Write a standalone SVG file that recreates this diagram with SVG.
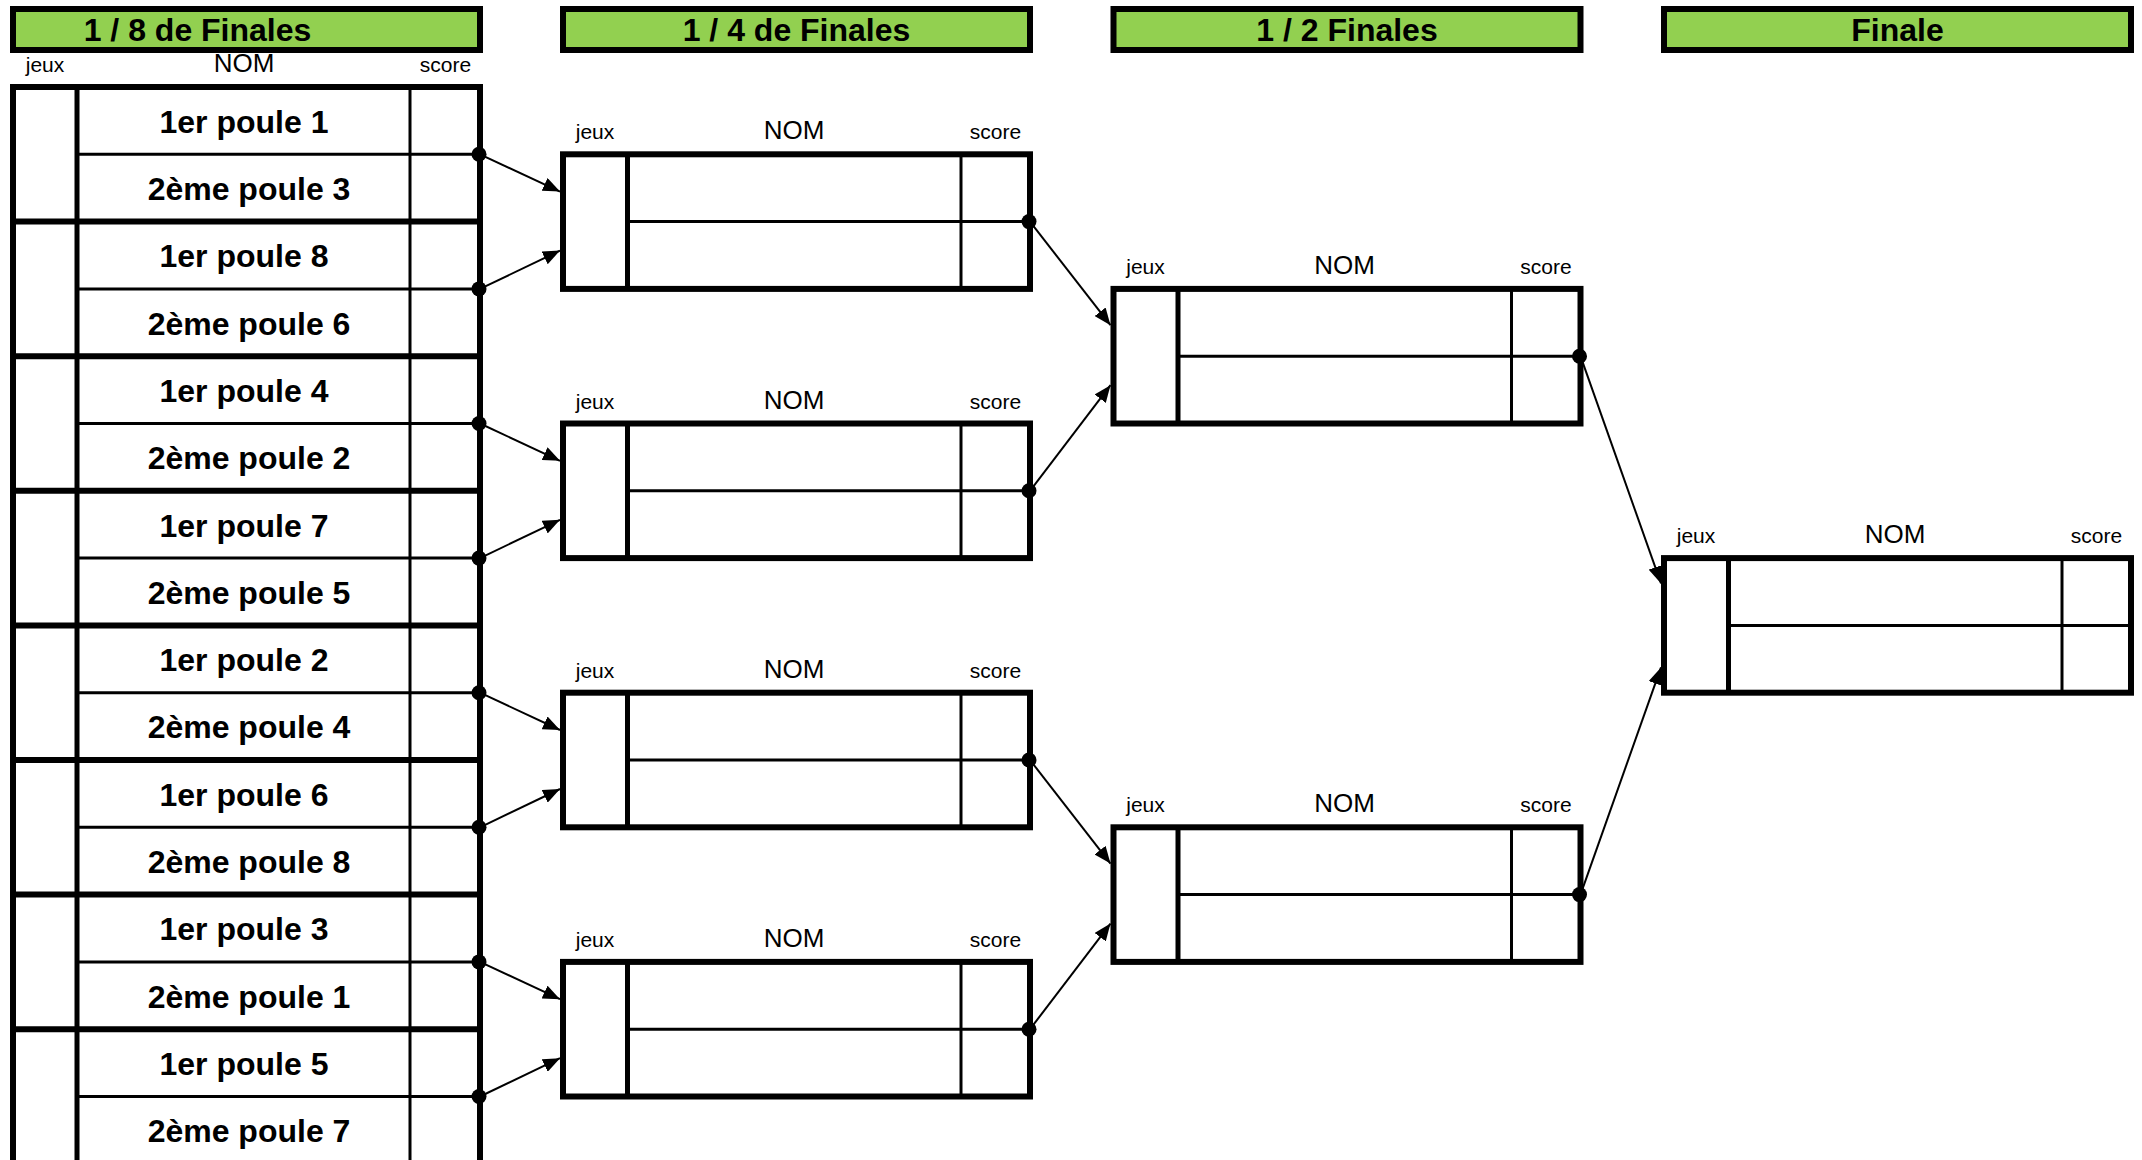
<svg xmlns="http://www.w3.org/2000/svg" width="2142" height="1160" viewBox="0 0 2142 1160">
<style>
text{font-family:"Liberation Sans",Arial,sans-serif;fill:#000}
.hdr{fill:#92D050;stroke:#000;stroke-width:6}
.ht{font-size:32px;font-weight:bold;text-anchor:middle}
.sm{font-size:21px;text-anchor:middle}
.nom{font-size:26px;text-anchor:middle}
.lb{font-size:32px;font-weight:bold;text-anchor:middle}
.thick{stroke:#000;stroke-width:6;fill:none}
.mid{stroke:#000;stroke-width:5;fill:none}
.thin{stroke:#000;stroke-width:3;fill:none}
.box{fill:#fff;stroke:#000;stroke-width:6}
.conn line{stroke:#000;stroke-width:2}
.conn circle{fill:#000}
</style>
<defs>
<marker id="arr" markerUnits="userSpaceOnUse" markerWidth="18" markerHeight="14" refX="17" refY="7" orient="auto">
<path d="M0,0 L17,7 L0,14 Z" fill="#000"/>
</marker>
<g id="boxbody">
<rect class="box" x="0" y="0" width="467" height="134.6"/>
<line class="mid" x1="64.5" y1="0" x2="64.5" y2="134.6"/>
<line class="thin" x1="398" y1="0" x2="398" y2="134.6"/>
<line class="thin" x1="64.5" y1="67.3" x2="467" y2="67.3"/>
<text class="sm" x="32" y="-15">jeux</text>
<text class="nom" x="231" y="-15">NOM</text>
<text class="sm" x="432.5" y="-15">score</text>
</g>
</defs>
<rect width="2142" height="1160" fill="#fff"/>

<g id="headers">
<g id="h-r16"><rect class="hdr" x="13" y="9" width="467" height="41"/><text class="ht" x="197.5" y="41">1 / 8 de Finales</text></g>
<g id="h-qf"><rect class="hdr" x="563" y="9" width="467" height="41"/><text class="ht" x="796.5" y="41">1 / 4 de Finales</text></g>
<g id="h-sf"><rect class="hdr" x="1113.5" y="9" width="467" height="41"/><text class="ht" x="1347" y="41">1 / 2 Finales</text></g>
<g id="h-f"><rect class="hdr" x="1664" y="9" width="467" height="41"/><text class="ht" x="1897.5" y="41">Finale</text></g>
</g>

<g id="r16">
<text class="sm" x="45" y="72">jeux</text>
<text class="nom" x="244" y="72">NOM</text>
<text class="sm" x="445.5" y="72">score</text>
<rect x="13" y="87" width="467" height="1080" fill="#fff"/>
<line class="thin" x1="410" y1="87" x2="410" y2="1165"/>
<g class="thin">
<line x1="77" y1="154.3" x2="480" y2="154.3"/>
<line x1="77" y1="288.9" x2="480" y2="288.9"/>
<line x1="77" y1="423.5" x2="480" y2="423.5"/>
<line x1="77" y1="558.1" x2="480" y2="558.1"/>
<line x1="77" y1="692.7" x2="480" y2="692.7"/>
<line x1="77" y1="827.3" x2="480" y2="827.3"/>
<line x1="77" y1="961.9" x2="480" y2="961.9"/>
<line x1="77" y1="1096.5" x2="480" y2="1096.5"/>
</g>
<g class="thick">
<line x1="10" y1="87" x2="483" y2="87"/>
<line x1="10" y1="221.6" x2="483" y2="221.6"/>
<line x1="10" y1="356.2" x2="483" y2="356.2"/>
<line x1="10" y1="490.8" x2="483" y2="490.8"/>
<line x1="10" y1="625.4" x2="483" y2="625.4"/>
<line x1="10" y1="760" x2="483" y2="760"/>
<line x1="10" y1="894.6" x2="483" y2="894.6"/>
<line x1="10" y1="1029.2" x2="483" y2="1029.2"/>
<line x1="13" y1="84" x2="13" y2="1165"/>
<line x1="480" y1="84" x2="480" y2="1165"/>
</g>
<line class="mid" x1="77" y1="87" x2="77" y2="1165"/>
<g class="lb">
<text x="244" y="132.7">1er poule 1</text>
<text x="249" y="200">2ème poule 3</text>
<text x="244" y="267.3">1er poule 8</text>
<text x="249" y="334.6">2ème poule 6</text>
<text x="244" y="401.9">1er poule 4</text>
<text x="249" y="469.2">2ème poule 2</text>
<text x="244" y="536.5">1er poule 7</text>
<text x="249" y="603.8">2ème poule 5</text>
<text x="244" y="671.1">1er poule 2</text>
<text x="249" y="738.4">2ème poule 4</text>
<text x="244" y="805.7">1er poule 6</text>
<text x="249" y="873">2ème poule 8</text>
<text x="244" y="940.3">1er poule 3</text>
<text x="249" y="1007.6">2ème poule 1</text>
<text x="244" y="1074.9">1er poule 5</text>
<text x="249" y="1142.2">2ème poule 7</text>
</g>
</g>

<g id="qf1" transform="translate(563,154.3)"><use href="#boxbody"/></g>
<g id="qf2" transform="translate(563,423.5)"><use href="#boxbody"/></g>
<g id="qf3" transform="translate(563,692.7)"><use href="#boxbody"/></g>
<g id="qf4" transform="translate(563,961.9)"><use href="#boxbody"/></g>
<g id="sf1" transform="translate(1113.5,288.9)"><use href="#boxbody"/></g>
<g id="sf2" transform="translate(1113.5,827.3)"><use href="#boxbody"/></g>
<g id="final" transform="translate(1664,558.1)"><use href="#boxbody"/></g>

<g id="connectors" class="conn">
<line x1="480" y1="154.3" x2="560" y2="191.6" marker-end="url(#arr)"/>
<line x1="480" y1="288.9" x2="560" y2="250.6" marker-end="url(#arr)"/>
<line x1="480" y1="423.5" x2="560" y2="460.8" marker-end="url(#arr)"/>
<line x1="480" y1="558.1" x2="560" y2="519.8" marker-end="url(#arr)"/>
<line x1="480" y1="692.7" x2="560" y2="730" marker-end="url(#arr)"/>
<line x1="480" y1="827.3" x2="560" y2="789" marker-end="url(#arr)"/>
<line x1="480" y1="961.9" x2="560" y2="999.2" marker-end="url(#arr)"/>
<line x1="480" y1="1096.5" x2="560" y2="1058.2" marker-end="url(#arr)"/>
<line x1="1030" y1="221.6" x2="1110.5" y2="325.2" marker-end="url(#arr)"/>
<line x1="1030" y1="490.8" x2="1110.5" y2="385.2" marker-end="url(#arr)"/>
<line x1="1030" y1="760" x2="1110.5" y2="863.6" marker-end="url(#arr)"/>
<line x1="1030" y1="1029.2" x2="1110.5" y2="923.6" marker-end="url(#arr)"/>
<line x1="1580.5" y1="356.2" x2="1661" y2="583.4" marker-end="url(#arr)"/>
<line x1="1580.5" y1="894.6" x2="1661" y2="667.4" marker-end="url(#arr)"/>
<circle cx="479" cy="154.3" r="7.5"/>
<circle cx="479" cy="288.9" r="7.5"/>
<circle cx="479" cy="423.5" r="7.5"/>
<circle cx="479" cy="558.1" r="7.5"/>
<circle cx="479" cy="692.7" r="7.5"/>
<circle cx="479" cy="827.3" r="7.5"/>
<circle cx="479" cy="961.9" r="7.5"/>
<circle cx="479" cy="1096.5" r="7.5"/>
<circle cx="1029" cy="221.6" r="7.5"/>
<circle cx="1029" cy="490.8" r="7.5"/>
<circle cx="1029" cy="760" r="7.5"/>
<circle cx="1029" cy="1029.2" r="7.5"/>
<circle cx="1579.5" cy="356.2" r="7.5"/>
<circle cx="1579.5" cy="894.6" r="7.5"/>
</g>
</svg>
